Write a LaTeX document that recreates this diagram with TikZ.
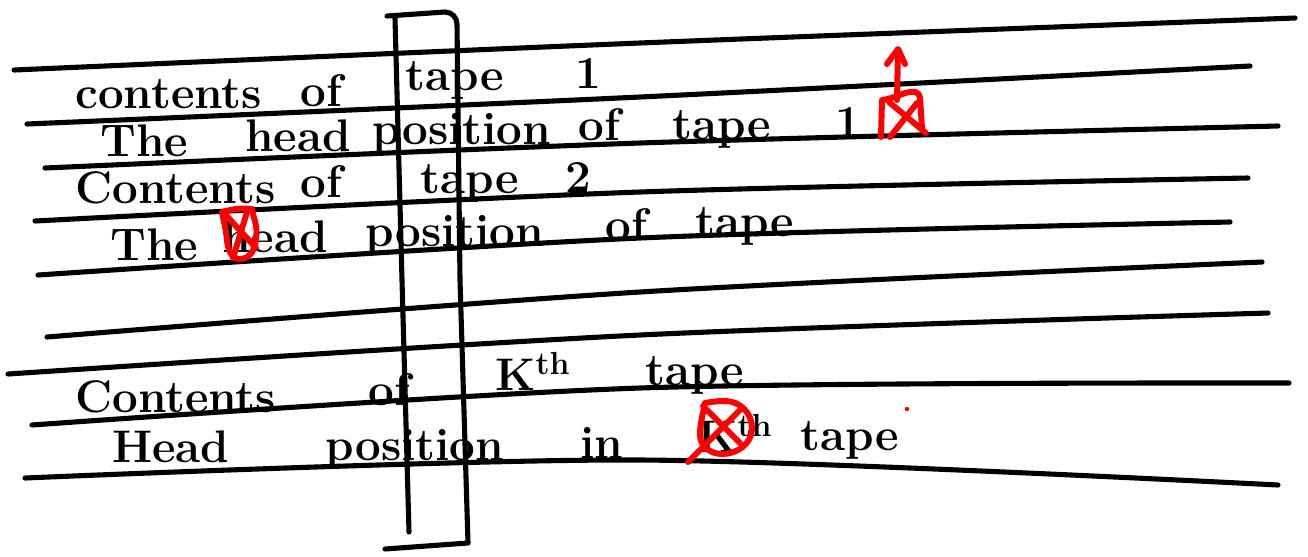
\documentclass[tikz,border=0pt]{standalone}
\usetikzlibrary{arrows.meta}
\begin{document}
\begin{tikzpicture}[x=0.02cm,y=-0.02cm,
  rule/.style={line width=2.9pt, line cap=round, line join=round},
  redmark/.style={red, line width=3.4pt, line cap=round, line join=round},
  hw/.style={font=\fontsize{26}{30}\selectfont\bfseries, inner sep=0pt, anchor=base west}]
\useasboundingbox (0,0) rectangle (1308,556);
% ruled tape lines
\draw[rule] plot[smooth, tension=0.5] coordinates {(14,70) (640,43) (1295,18)};
\draw[rule] plot[smooth, tension=0.5] coordinates {(27,124) (640,97) (1250,66)};
\draw[rule] plot[smooth, tension=0.5] coordinates {(45,168) (640,143) (1278,126)};
\draw[rule] plot[smooth, tension=0.5] coordinates {(35,221) (640,192) (1248,178)};
\draw[rule] plot[smooth, tension=0.5] coordinates {(38,275) (640,238) (1230,222)};
\draw[rule] plot[smooth, tension=0.5] coordinates {(47,337) (640,292) (1262,262)};
\draw[rule] plot[smooth, tension=0.5] coordinates {(8,374) (640,335) (1268,313)};
\draw[rule] plot[smooth, tension=0.5] coordinates {(32,425) (640,388) (1289,383)};
\draw[rule] plot[smooth, tension=0.5] coordinates {(25,478) (640,460) (1278,485)};
% head window
\draw[rule] (387,16) -- (445,12) to[out=0,in=90] (457,24) -- (460,280) -- (468,543) -- (385,549);
\draw[rule] (395,18) -- (402,280) -- (409,532);
% row 1
\node[hw] (r1a) at (75,108) {contents};
\node[hw] (r1b) at (300,106) {of};
\node[hw] (r1c) at (405,90) {tape};
\node[hw] (r1d) at (575,88) {1};
% row 2
\node[hw] (r2a) at (100,156) {The};
\node[hw] (r2b) at (245,151) {head};
\node[hw] (r2c) at (372,144) {position};
\node[hw] (r2d) at (578,140) {of};
\node[hw] (r2e) at (672,139) {tape};
\node[hw] (r2f) at (835,137) {1};
% row 3
\node[hw] (r3a) at (75,203) {Contents};
\node[hw] (r3b) at (300,197) {of};
\node[hw] (r3c) at (420,193) {tape};
\node[hw] (r3d) at (565,192) {2};
% row 4
\node[hw] (r4a) at (110,260) {The};
\node[hw] (r4b) at (222,252) {head};
\node[hw] (r4c) at (365,246) {position};
\node[hw] (r4d) at (605,240) {of};
\node[hw] (r4e) at (695,236) {tape};
% row K
\node[hw] (r8a) at (75,412) {Contents};
\node[hw] (r8b) at (368,405) {of};
\node[hw] (r8c) at (495,390) {K\textsuperscript{th}};
\node[hw] (r8d) at (645,385) {tape};
\node[hw] (r9a) at (112,462) {Head};
\node[hw] (r9b) at (325,460) {position};
\node[hw] (r9c) at (580,458) {in};
\node[hw] (r9d) at (697,452) {K\textsuperscript{th}};
\node[hw] (r9e) at (800,450) {tape};
% red marks: head of tape 1
\draw[redmark] (881,137) -- (882,100) to[out=5,in=100] (920,98) -- (922,128);
\draw[redmark] (889,102) -- (926,133);
\draw[redmark] (917,103) -- (890,137);
\draw[redmark] (897,100) -- (898,50);
\draw[redmark] (887,64) -- (898,49) -- (905,64);
% red marks: head of tape 2
\draw[redmark] (222,212) to[out=15,in=175] (252,209) to[out=-80,in=80] (256,238)
  to[out=-90,in=0] (240,259) to[out=180,in=-85] (227,240) to[out=95,in=-80] (222,212);
\draw[redmark] (224,213) -- (256,248);
\draw[redmark] (247,212) -- (233,258);
% red marks: head of tape K
\draw[redmark] (705,403) to[out=10,in=180] (725,401) to[out=0,in=90] (752,428)
  to[out=-90,in=0] (722,454) to[out=180,in=-90] (700,435) to[out=90,in=-100] (705,403);
\draw[redmark] (703,406) -- (740,443);
\draw[redmark] (740,410) -- (688,462);
\fill[red] (907,409) circle (2.2);
\end{tikzpicture}
\end{document}
